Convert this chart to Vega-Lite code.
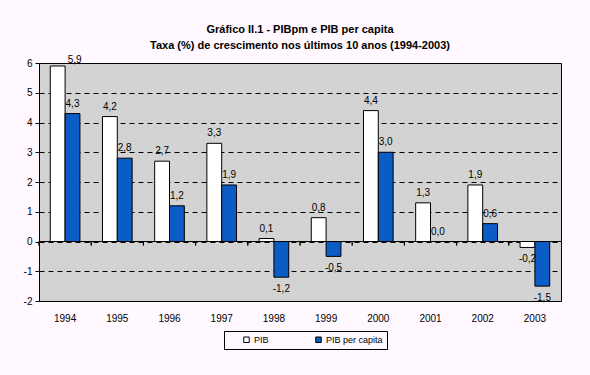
{
  "$schema": "https://vega.github.io/schema/vega-lite/v6.json",
  "width": 522,
  "height": 238,
  "autosize": {"type": "none"},
  "padding": {"left": 39, "top": 63, "right": 29, "bottom": 74},
  "background": "#FFF8FF",
  "title": {
    "text": ["Gráfico II.1 - PIBpm e PIB per capita", "Taxa (%) de crescimento nos últimos 10 anos (1994-2003)"],
    "fontSize": 11,
    "font": "Liberation Sans",
    "fontWeight": "bold",
    "lineHeight": 16,
    "offset": 4,
    "color": "black",
    "anchor": "middle"
  },
  "data": {
    "values": [
      {"year": "1994", "series": "PIB", "value": 5.9},
      {"year": "1994", "series": "PIB per capita", "value": 4.3},
      {"year": "1995", "series": "PIB", "value": 4.2},
      {"year": "1995", "series": "PIB per capita", "value": 2.8},
      {"year": "1996", "series": "PIB", "value": 2.7},
      {"year": "1996", "series": "PIB per capita", "value": 1.2},
      {"year": "1997", "series": "PIB", "value": 3.3},
      {"year": "1997", "series": "PIB per capita", "value": 1.9},
      {"year": "1998", "series": "PIB", "value": 0.1},
      {"year": "1998", "series": "PIB per capita", "value": -1.2},
      {"year": "1999", "series": "PIB", "value": 0.8},
      {"year": "1999", "series": "PIB per capita", "value": -0.5},
      {"year": "2000", "series": "PIB", "value": 4.4},
      {"year": "2000", "series": "PIB per capita", "value": 3.0},
      {"year": "2001", "series": "PIB", "value": 1.3},
      {"year": "2001", "series": "PIB per capita", "value": 0.0},
      {"year": "2002", "series": "PIB", "value": 1.9},
      {"year": "2002", "series": "PIB per capita", "value": 0.6},
      {"year": "2003", "series": "PIB", "value": -0.2},
      {"year": "2003", "series": "PIB per capita", "value": -1.5}
    ]
  },
  "encoding": {
    "x": {
      "field": "year", "type": "ordinal",
      "scale": {"paddingInner": 0, "paddingOuter": 0},
      "axis": {"title": null, "domain": false, "ticks": false, "labelPadding": 12, "labelAngle": 0, "labelColor": "black", "labelFontSize": 10, "labelFont": "Liberation Sans"}
    },
    "y": {
      "field": "value", "type": "quantitative",
      "scale": {"domain": [-2, 6], "nice": false},
      "axis": {"values": [-2, -1, 0, 1, 2, 3, 4, 5, 6], "labelOverlap": false, "title": null, "grid": true, "gridColor": "black", "gridDash": [5, 4], "gridOpacity": 1, "domain": false, "tickColor": "black", "tickSize": 4, "labelColor": "black", "labelFontSize": 10, "labelFont": "Liberation Sans", "labelPadding": 3}
    }
  },
  "layer": [
    {
      "mark": {"type": "bar", "stroke": "black", "strokeWidth": 1},
      "encoding": {
        "xOffset": {"field": "series", "type": "nominal", "scale": {"paddingOuter": 0.76, "paddingInner": 0}},
        "color": {
          "field": "series", "type": "nominal",
          "scale": {"domain": ["PIB", "PIB per capita"], "range": ["#FFFFFF", "#0B5CC5"]},
          "legend": {
            "orient": "none", "legendX": 185, "legendY": 268,
            "direction": "horizontal", "title": null,
            "strokeColor": "black", "padding": 4,
            "symbolType": "square", "symbolSize": 30, "symbolOffset": 14,
            "symbolStrokeColor": "black", "symbolStrokeWidth": 1,
            "labelFontSize": 9, "labelColor": "black", "labelFont": "Liberation Sans",
            "columnPadding": 31, "labelOffset": 3, "clipHeight": 9
          }
        }
      }
    },
    {
      "mark": {"type": "rule", "color": "black", "strokeWidth": 1},
      "encoding": {"x": null, "y": {"datum": 0}}
    },
    {
      "mark": {"type": "rule", "color": "black", "strokeWidth": 1},
      "encoding": {
        "x": {"field": "year", "type": "ordinal", "bandPosition": 0},
        "y": {"datum": 0},
        "y2": {"datum": -0.134}
      }
    },
    {
      "transform": [{"filter": "datum.value >= 0 && datum.value < 5.5"}],
      "mark": {"type": "text", "baseline": "middle", "dy": -10, "fontSize": 10, "font": "Liberation Sans", "color": "black"},
      "encoding": {
        "xOffset": {"field": "series", "type": "nominal"},
        "text": {"field": "value", "type": "quantitative", "format": ".1f"}
      }
    },
    {
      "transform": [{"filter": "datum.value < 0"}],
      "mark": {"type": "text", "baseline": "middle", "dy": 12, "fontSize": 10, "font": "Liberation Sans", "color": "black"},
      "encoding": {
        "xOffset": {"field": "series", "type": "nominal"},
        "text": {"field": "value", "type": "quantitative", "format": ".1f"}
      }
    },
    {
      "transform": [{"filter": "datum.value >= 5.5"}],
      "mark": {"type": "text", "baseline": "middle", "align": "left", "dx": 10, "dy": -6, "fontSize": 10, "font": "Liberation Sans", "color": "black"},
      "encoding": {
        "xOffset": {"field": "series", "type": "nominal"},
        "text": {"field": "value", "type": "quantitative", "format": ".1f"}
      }
    }
  ],
  "config": {
    "font": "Liberation Sans",
    "view": {"fill": "#D3D3D3", "stroke": "black", "strokeWidth": 1},
    "locale": {
      "number": {"decimal": ",", "thousands": ".", "grouping": [3], "currency": ["", " €"], "minus": "-"}
    }
  }
}
